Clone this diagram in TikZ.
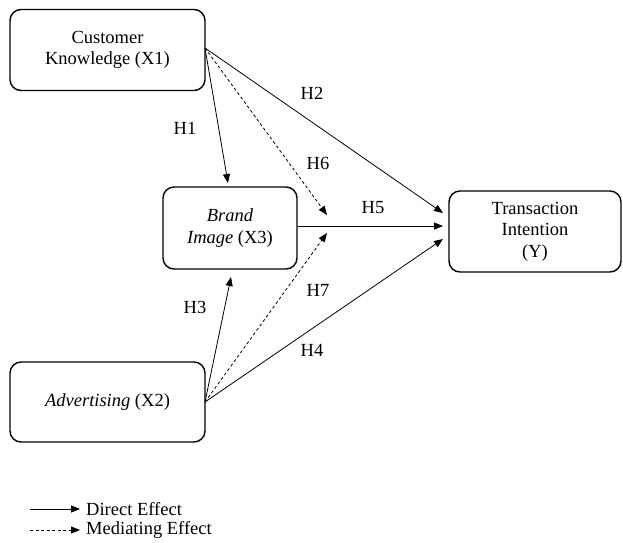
\documentclass[tikz,border=0pt]{standalone}
\usepackage{fontspec}
\setmainfont{Liberation Serif}
\usetikzlibrary{arrows.meta}
\begin{document}
\begin{tikzpicture}[x=1pt,y=-1pt,
  every node/.style={font=\fontsize{18.5}{21.5}\selectfont},
  box/.style={draw, line width=1.4pt, rounded corners=11pt, align=center, inner sep=0pt},
  arr/.style={-{Triangle[length=9pt,width=7pt]}, line width=0.8pt},
  med/.style={arr, dashed, dash pattern=on 3pt off 2.5pt},
  lbl/.style={inner sep=0pt}]
\useasboundingbox (0,0) rectangle (623,542);
\node[box, minimum width=195pt, minimum height=81pt] (X1) at (107.5,50) {Customer\\Knowledge (X1)};
\node[box, minimum width=134pt, minimum height=82pt] (X3) at (230,228) {\textit{Brand}\\\textit{Image} (X3)};
\node[box, minimum width=172pt, minimum height=81pt] (Y) at (535,231.5) {Transaction\\Intention\\(Y)};
\node[box, minimum width=195pt, minimum height=80pt] (X2) at (107.5,402) {\textit{Advertising} (X2)};
% endpoints
\coordinate (s1) at (205,48);
\coordinate (s2) at (205,402);
\coordinate (t1) at (228,183);
\coordinate (t3) at (231,277);
\coordinate (m1) at (327,215);
\coordinate (m2) at (327,233);
\coordinate (y1) at (443,213);
\coordinate (y2) at (443,226);
\coordinate (y3) at (443,239);
\draw[arr] (s1) -- (t1);
\draw[arr] (s1) -- (y1);
\draw[med] (s1) -- (m1);
\draw[arr] (X3.east |- y2) -- (y2);
\draw[arr] (s2) -- (t3);
\draw[med] (s2) -- (m2);
\draw[arr] (s2) -- (y3);
% labels
\node[lbl] (h1) at (185,128) {H1};
\node[lbl] (h2) at (312,93) {H2};
\node[lbl] (h6) at (318,163) {H6};
\node[lbl] (h5) at (373,208) {H5};
\node[lbl] (h7) at (318,290) {H7};
\node[lbl] (h3) at (195,307) {H3};
\node[lbl] (h4) at (312,350) {H4};
% legend
\coordinate (la1) at (30,509);
\coordinate (lb1) at (80,509);
\coordinate (la2) at (30,530);
\coordinate (lb2) at (80,530);
\draw[arr] (la1) -- (lb1);
\draw[med] (la2) -- (lb2);
\node[lbl, anchor=west] (d1) at (86,509) {Direct Effect};
\node[lbl, anchor=west] (d2) at (86,530) {Mediating Effect};
\end{tikzpicture}
\end{document}
